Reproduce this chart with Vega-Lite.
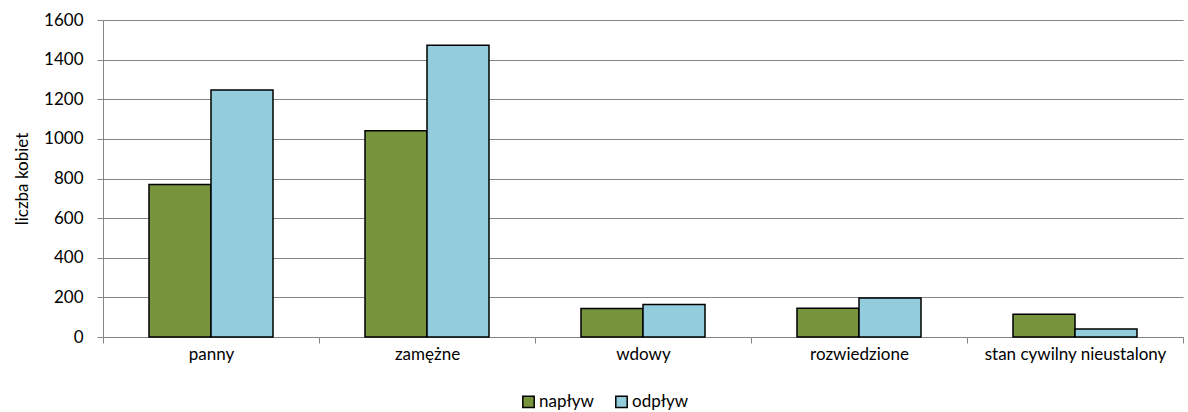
{
  "$schema": "https://vega.github.io/schema/vega-lite/v6.json",
  "autosize": {"type": "none"},
  "padding": {"left": 103, "top": 20, "right": 5, "bottom": 75},
  "width": 1080,
  "height": 317,
  "config": {
    "font": "Lato",
    "view": {"stroke": null},
    "axis": {"labelFont": "Lato", "titleFont": "Lato", "labelColor": "#000", "titleColor": "#000", "labelFontSize": 17, "titleFontSize": 17, "titleFontWeight": "normal"},
    "legend": {"labelFont": "Lato", "labelFontSize": 17, "labelColor": "#000"}
  },
  "data": {
    "values": [
      {"kat": "panny", "typ": "napływ", "v": 770},
      {"kat": "panny", "typ": "odpływ", "v": 1247},
      {"kat": "zamężne", "typ": "napływ", "v": 1041},
      {"kat": "zamężne", "typ": "odpływ", "v": 1473},
      {"kat": "wdowy", "typ": "napływ", "v": 144},
      {"kat": "wdowy", "typ": "odpływ", "v": 164},
      {"kat": "rozwiedzione", "typ": "napływ", "v": 145},
      {"kat": "rozwiedzione", "typ": "odpływ", "v": 197},
      {"kat": "stan cywilny nieustalony", "typ": "napływ", "v": 115},
      {"kat": "stan cywilny nieustalony", "typ": "odpływ", "v": 41}
    ]
  },
  "mark": {"type": "bar", "stroke": "#000", "strokeWidth": 1.5},
  "encoding": {
    "x": {
      "field": "kat", "type": "nominal", "sort": null,
      "scale": {"paddingInner": 0, "paddingOuter": 0},
      "axis": {"title": null, "labelAngle": 0, "labelLimit": 0, "tickBand": "extent", "domainColor": "#868686", "tickColor": "#868686", "tickSize": 6, "labelPadding": 3, "grid": false}
    },
    "xOffset": {"field": "typ", "type": "nominal", "scale": {"paddingInner": 0, "paddingOuter": 0.742}},
    "y": {
      "field": "v", "type": "quantitative",
      "scale": {"domain": [0, 1600], "nice": false},
      "axis": {"title": "liczba kobiet", "format": "d", "values": [0, 200, 400, 600, 800, 1000, 1200, 1400, 1600], "gridColor": "#868686", "domainColor": "#868686", "tickColor": "#868686", "tickSize": 6, "labelPadding": 14, "titlePadding": 12}
    },
    "fill": {
      "field": "typ", "type": "nominal",
      "scale": {"domain": ["napływ", "odpływ"], "range": ["#77933C", "#93CDDD"]},
      "legend": {"title": null, "orient": "none", "direction": "horizontal", "legendX": 417, "legendY": 373, "symbolType": "square", "symbolSize": 130, "symbolStrokeColor": "#000", "symbolStrokeWidth": 1.5, "symbolOpacity": 1, "labelOffset": 2, "columnPadding": 18}
    }
  }
}
